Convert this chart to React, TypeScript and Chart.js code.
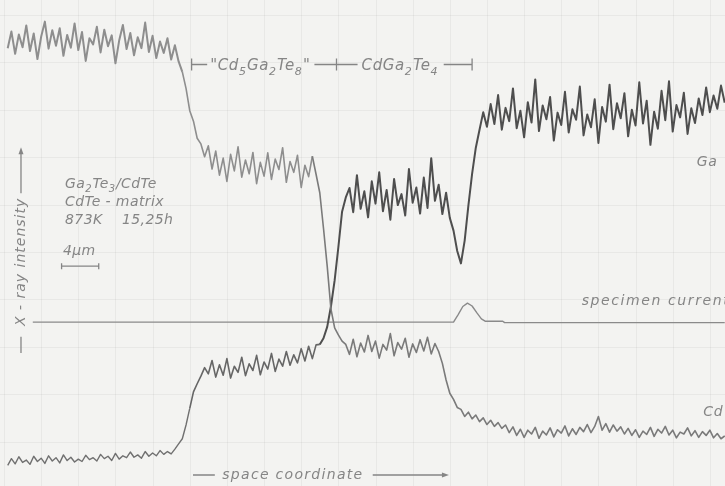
import React, { useEffect, useRef } from "react";
import { Chart, registerables } from "chart.js";

Chart.register(...registerables);

// ---- data (space coordinate in µm, X-ray intensity in arbitrary units) ----
const positionsUm = [
  0.4, 0.8, 1.2, 1.6, 2.0, 2.4, 2.8, 3.2, 3.6, 4.0,
  4.4, 4.8, 5.2, 5.6, 6.0, 6.4, 6.8, 7.2, 7.6, 8.0,
  8.4, 8.8, 9.2, 9.6, 10.0, 10.4, 10.8, 11.2, 11.6, 12.0,
  12.4, 12.8, 13.2, 13.6, 14.0, 14.4, 14.8, 15.2, 15.6, 16.0,
  16.4, 16.8, 17.2, 17.6, 18.0, 18.4, 18.8, 19.2, 19.6, 20.0,
  20.4, 20.8, 21.2, 21.6, 22.0, 22.4, 22.8, 23.2, 23.6, 24.0,
  24.4, 24.8, 25.2, 25.6, 26.0, 26.4, 26.8, 27.2, 27.6, 28.0,
  28.4, 28.8, 29.2, 29.6, 30.0, 30.4, 30.8, 31.2, 31.6, 32.0,
  32.4, 32.8, 33.2, 33.6, 34.0, 34.4, 34.8, 35.2, 35.6, 36.0,
  36.4, 36.8, 37.2, 37.6, 38.0, 38.4, 38.8, 39.2, 39.6, 40.0,
  40.4, 40.8, 41.2, 41.6, 42.0, 42.4, 42.8, 43.2, 43.6, 44.0,
  44.4, 44.8, 45.2, 45.6, 46.0, 46.4, 46.8, 47.2, 47.6, 48.0,
  48.4, 48.8, 49.2, 49.6, 50.0, 50.4, 50.8, 51.2, 51.6, 52.0,
  52.4, 52.8, 53.2, 53.6, 54.0, 54.4, 54.8, 55.2, 55.6, 56.0,
  56.4, 56.8, 57.2, 57.6, 58.0, 58.4, 58.8, 59.2, 59.6, 60.0,
  60.4, 60.8, 61.2, 61.6, 62.0, 62.4, 62.8, 63.2, 63.6, 64.0,
  64.4, 64.8, 65.2, 65.6, 66.0, 66.4, 66.8, 67.2, 67.6, 68.0,
  68.4, 68.8, 69.2, 69.6, 70.0, 70.4, 70.8, 71.2, 71.6, 72.0,
  72.4, 72.8, 73.2, 73.6, 74.0, 74.4, 74.8, 75.2, 75.6, 76.0,
  76.4, 76.8, 77.2, 77.6,
];

const cdIntensity = [
  93.0, 96.5, 91.8, 95.9, 93.2, 97.8, 92.4, 96.1, 90.7, 95.4,
  98.6, 92.9, 96.8, 93.5, 97.2, 91.4, 95.8, 93.1, 98.2, 92.6,
  96.4, 90.3, 95.1, 93.8, 97.5, 92.1, 96.9, 93.4, 95.7, 89.8,
  94.6, 97.9, 92.8, 96.2, 91.5, 95.3, 93.0, 98.4, 92.2, 95.6,
  90.9, 94.4, 92.0, 95.1, 90.6, 93.6, 90.2, 88.0, 84.5, 79.8,
  77.6, 74.0, 72.8, 70.1, 72.4, 67.5, 71.3, 66.2, 69.8, 64.9,
  70.6, 67.1, 72.2, 65.8, 69.4, 66.5, 71.0, 64.4, 68.9, 66.0,
  70.9, 65.3, 69.6, 67.4, 72.0, 64.7, 69.1, 66.8, 70.4, 63.6,
  68.3, 65.9, 70.2, 66.4, 62.5, 55.0, 47.0, 38.0, 34.0, 32.5,
  31.2, 30.5, 28.4, 31.6, 27.9, 30.8, 28.9, 32.4, 29.0, 31.2,
  27.6, 30.5, 29.3, 32.8, 28.1, 30.9, 29.5, 31.8, 27.8, 30.6,
  28.8, 31.5, 29.1, 32.0, 28.5, 30.7, 29.0, 26.5, 23.0, 20.2,
  18.9, 17.2, 16.8, 15.3, 16.2, 14.8, 15.6, 14.2, 15.0, 13.6,
  14.5, 13.2, 14.0, 12.8, 13.5, 11.9, 13.1, 11.3, 12.6, 10.9,
  12.4, 11.6, 13.0, 10.7, 12.2, 11.4, 12.9, 11.0, 12.5, 11.8,
  13.3, 11.2, 12.7, 11.5, 13.0, 12.1, 13.6, 11.9, 13.2, 15.3,
  12.4, 13.8, 12.0, 13.5, 12.2, 13.1, 11.6, 12.8, 11.3, 12.5,
  10.9, 12.2, 11.5, 13.0, 11.1, 12.6, 11.8, 13.2, 11.4, 12.4,
  10.8, 12.0, 11.6, 12.9, 11.2, 12.3, 10.9, 12.1, 11.3, 12.4,
  10.8, 11.7, 10.6, 11.2,
];

const gaIntensity = [
  5.0, 6.4, 5.3, 6.8, 5.6, 6.1, 5.2, 6.9, 5.8, 6.5,
  5.4, 7.0, 5.9, 6.6, 5.5, 7.2, 6.0, 6.7, 5.7, 6.3,
  5.8, 7.1, 6.2, 6.6, 5.9, 7.3, 6.4, 6.9, 6.0, 7.5,
  6.3, 7.0, 6.6, 7.8, 6.7, 7.2, 6.5, 7.9, 6.9, 7.6,
  7.0, 8.1, 7.3, 7.9, 7.4, 8.4, 9.5, 10.6, 13.5, 17.0,
  20.5, 22.2, 23.8, 25.6, 24.3, 27.1, 23.6, 26.2, 24.0, 27.5,
  23.4, 25.9, 24.6, 27.8, 23.9, 26.4, 25.0, 28.2, 24.1, 26.8,
  25.3, 28.6, 24.8, 27.4, 25.9, 29.0, 26.1, 28.3, 26.6, 29.6,
  27.0, 30.1, 27.5, 30.4, 30.5, 31.8, 34.2, 38.5, 44.0, 51.0,
  58.5, 61.5, 63.5, 58.4, 66.2, 59.1, 62.8, 57.3, 64.9, 60.2,
  66.8, 58.6, 63.1, 56.8, 65.4, 59.9, 62.2, 57.7, 67.5, 60.4,
  63.6, 58.1, 65.7, 59.3, 69.8, 60.8, 64.2, 58.0, 62.5, 57.2,
  54.5, 50.2, 47.6, 52.4, 59.8, 66.5, 72.0, 75.8, 79.5, 76.4,
  81.2, 77.0, 83.1, 75.8, 80.4, 77.6, 84.5, 76.1, 79.8, 74.2,
  81.6, 77.3, 86.4, 75.5, 80.9, 78.0, 82.7, 73.5, 79.4, 76.8,
  83.8, 75.2, 80.1, 77.9, 84.9, 74.6, 79.0, 76.3, 82.2, 73.0,
  80.6, 77.5, 85.3, 75.9, 81.4, 78.2, 83.5, 74.4, 80.0, 76.7,
  85.8, 77.1, 81.9, 72.6, 79.6, 76.0, 84.0, 77.8, 86.0, 75.4,
  81.0, 78.4, 83.6, 74.9, 80.3, 77.2, 82.4, 78.9, 84.7, 79.5,
  83.0, 80.2, 85.1, 81.5,
];

const currentPositionsUm = [3.1, 48.4, 48.9, 49.4, 49.9, 50.4, 50.9, 51.4, 51.8, 53.7, 53.9, 77.6];
const specimenCurrent = [35.2, 35.2, 36.8, 38.5, 39.2, 38.6, 37.2, 35.9, 35.4, 35.4, 35.1, 35.1];

const gridPositionsUm = [0, 4, 8, 12, 16, 20, 24, 28, 32, 36, 40, 44, 48, 52, 56, 60, 64, 68, 72, 76];
const gridIntensity = [10, 20, 30, 40, 50, 60, 70, 80, 90, 100];

// ---- texts ----
type Part = [string, number];
const sampleParts: Part[] = [["Ga", 0], ["2", 1], ["Te", 0], ["3", 1], ["/CdTe", 0]];
const matrixText = "CdTe - matrix";
const temperatureText = "873K";
const durationText = "15,25h";
const scaleText = "4µm";
const phase1Parts: Part[] = [["\"Cd", 0], ["5", 1], ["Ga", 0], ["2", 1], ["Te", 0], ["8", 1], ["\"", 0]];
const phase2Parts: Part[] = [["CdGa", 0], ["2", 1], ["Te", 0], ["4", 1]];
const yTitle = "X - ray intensity";
const xTitle = "space coordinate";
const currentLabel = "specimen current";
const gaLabel = "Ga";
const cdLabel = "Cd";

// ---- layout / style ----
const X_MIN = -0.43;
const X_MAX = 77.63;
const Y_MIN = 0.63;
const Y_MAX = 103.16;
const FONT = '"DejaVu Sans", sans-serif';
const TEXT_COLOR = "#858585";
const BG = "#f3f3f1";
const GRID_COLOR = "rgba(0,0,0,0.045)";

function drawParts(ctx: CanvasRenderingContext2D, parts: Part[], x: number, y: number, size: number) {
  let cx = x;
  for (const [t, sub] of parts) {
    const s = sub ? Math.round(size * 0.7) : size;
    ctx.font = `italic ${s}px ${FONT}`;
    ctx.fillText(t, cx, sub ? y + size * 0.28 : y);
    cx += ctx.measureText(t).width + (sub ? 0.5 : 0);
  }
  return cx;
}

function arrowHead(ctx: CanvasRenderingContext2D, x: number, y: number, dir: "up" | "right") {
  ctx.beginPath();
  if (dir === "up") {
    ctx.moveTo(x, y - 1);
    ctx.lineTo(x - 2.5, y + 6);
    ctx.lineTo(x + 2.5, y + 6);
  } else {
    ctx.moveTo(x + 1, y);
    ctx.lineTo(x - 6, y - 2.5);
    ctx.lineTo(x - 6, y + 2.5);
  }
  ctx.closePath();
  ctx.fill();
}

const decorPlugin = {
  id: "decor",
  beforeDraw(chart: any) {
    const { ctx, width, height } = chart;
    const xs = chart.scales.x;
    const ys = chart.scales.y;
    ctx.save();
    ctx.fillStyle = BG;
    ctx.fillRect(0, 0, width, height);
    ctx.strokeStyle = GRID_COLOR;
    ctx.lineWidth = 1;
    for (const g of gridPositionsUm) {
      const p = Math.round(xs.getPixelForValue(g)) + 0.5;
      ctx.beginPath();
      ctx.moveTo(p, 0);
      ctx.lineTo(p, height);
      ctx.stroke();
    }
    for (const g of gridIntensity) {
      const p = Math.round(ys.getPixelForValue(g)) + 0.5;
      ctx.beginPath();
      ctx.moveTo(0, p);
      ctx.lineTo(width, p);
      ctx.stroke();
    }
    ctx.restore();
  },
  afterDatasetsDraw(chart: any) {
    const ctx: any = chart.ctx;
    const xs = chart.scales.x;
    const ys = chart.scales.y;
    const px = (v: number) => xs.getPixelForValue(v);
    const py = (v: number) => ys.getPixelForValue(v);
    ctx.save();
    ctx.fillStyle = TEXT_COLOR;
    ctx.strokeStyle = TEXT_COLOR;
    ctx.lineWidth = 1.3;
    ctx.textBaseline = "alphabetic";
    ctx.textAlign = "left";
    const size = 14;

    // sample block
    ctx.letterSpacing = "0.4px";
    drawParts(ctx, sampleParts, px(6.57), py(63.5), size);
    ctx.font = `italic ${size}px ${FONT}`;
    ctx.fillText(matrixText, px(6.57), py(59.7));
    ctx.fillText(temperatureText, px(6.57), py(55.9));
    ctx.fillText(durationText, px(12.7), py(55.9));
    ctx.fillText(scaleText, px(6.35), py(49.4));
    // scale bar 4 µm
    const sbY = py(47.0);
    ctx.beginPath();
    ctx.moveTo(px(6.2), sbY);
    ctx.lineTo(px(10.2), sbY);
    ctx.moveTo(px(6.2), sbY - 3);
    ctx.lineTo(px(6.2), sbY + 3);
    ctx.moveTo(px(10.2), sbY - 3);
    ctx.lineTo(px(10.2), sbY + 3);
    ctx.stroke();

    // phase bracket
    ctx.letterSpacing = "0.6px";
    const bY = py(89.55);
    const tY = py(88.3);
    const leftTick = px(20.2);
    const t1 = px(22.2);
    const cross = px(35.8);
    const t2 = px(38.5);
    const endTick = px(50.4);
    ctx.beginPath();
    ctx.moveTo(leftTick, bY - 6);
    ctx.lineTo(leftTick, bY + 6);
    ctx.moveTo(leftTick, bY);
    ctx.lineTo(t1 - 3, bY);
    ctx.stroke();
    const e1 = drawParts(ctx, phase1Parts, t1, tY, 15);
    ctx.beginPath();
    ctx.moveTo(e1 + 4, bY);
    ctx.lineTo(t2 - 4, bY);
    ctx.moveTo(cross, bY - 6);
    ctx.lineTo(cross, bY + 6);
    ctx.stroke();
    const e2 = drawParts(ctx, phase2Parts, t2, tY, 15);
    ctx.beginPath();
    ctx.moveTo(e2 + 5, bY);
    ctx.lineTo(endTick, bY);
    ctx.moveTo(endTick, bY - 6);
    ctx.lineTo(endTick, bY + 6);
    ctx.stroke();

    // y title with arrow
    const yx = px(1.83);
    ctx.save();
    ctx.translate(yx, py(47.9));
    ctx.rotate(-Math.PI / 2);
    ctx.font = `italic ${size}px ${FONT}`;
    ctx.letterSpacing = "1px";
    ctx.textAlign = "center";
    ctx.textBaseline = "middle";
    ctx.fillText(yTitle, 0, 0);
    ctx.restore();
    ctx.beginPath();
    ctx.moveTo(yx, py(62.4));
    ctx.lineTo(yx, py(71.9) + 4);
    ctx.moveTo(yx, py(32.1));
    ctx.lineTo(yx, py(28.7));
    ctx.stroke();
    arrowHead(ctx, yx, py(71.9), "up");

    // x title with arrow
    const xy = py(2.95);
    ctx.beginPath();
    ctx.moveTo(px(20.35), xy);
    ctx.lineTo(px(22.7), xy);
    ctx.moveTo(px(39.7), xy);
    ctx.lineTo(px(47.8) - 4, xy);
    ctx.stroke();
    arrowHead(ctx, px(47.8), xy, "right");
    ctx.font = `italic ${size}px ${FONT}`;
    ctx.letterSpacing = "1.3px";
    ctx.textBaseline = "middle";
    ctx.fillText(xTitle, px(23.5), xy);

    // series labels
    ctx.textBaseline = "alphabetic";
    ctx.letterSpacing = "1.6px";
    ctx.fillText(currentLabel, px(62.2), py(38.8));
    ctx.letterSpacing = "0.6px";
    ctx.fillText(gaLabel, px(74.6), py(68.1));
    ctx.fillText(cdLabel, px(75.3), py(15.4));
    ctx.restore();
  },
};

function toPoints(xs: number[], ys: number[]) {
  const n = Math.min(xs.length, ys.length);
  const out: { x: number; y: number }[] = [];
  for (let i = 0; i < n; i++) out.push({ x: xs[i], y: ys[i] });
  return out;
}

export default function App() {
  const canvasRef = useRef<HTMLCanvasElement | null>(null);

  useEffect(() => {
    const canvas = canvasRef.current;
    if (!canvas) return;
    const chart = new Chart(canvas, {
      type: "line",
      data: {
        datasets: [
          {
            label: "Cd",
            data: toPoints(positionsUm, cdIntensity),
            borderColor: "#7a7a7a",
            borderWidth: 1.6,
            pointRadius: 0,
            segment: {
              borderColor: (c: any) => (c.p0.parsed.x < 33 ? "#8e8e8e" : "#7a7a7a"),
              borderWidth: (c: any) => (c.p0.parsed.x < 19 ? 2.0 : 1.6),
            },
          },
          {
            label: "Ga",
            data: toPoints(positionsUm, gaIntensity),
            borderColor: "#505050",
            borderWidth: 1.8,
            pointRadius: 0,
            segment: {
              borderColor: (c: any) => (c.p0.parsed.x < 20 ? "#707070" : c.p0.parsed.x < 34 ? "#666666" : "#4e4e4e"),
              borderWidth: (c: any) => (c.p0.parsed.x < 20 ? 1.4 : c.p0.parsed.x < 34 ? 1.6 : 2.0),
            },
          },
          {
            label: "specimen current",
            data: toPoints(currentPositionsUm, specimenCurrent),
            borderColor: "#8a8a8a",
            borderWidth: 1.4,
            pointRadius: 0,
          },
        ],
      },
      options: {
        responsive: false,
        maintainAspectRatio: false,
        animation: false,
        events: [],
        layout: { padding: 0 },
        elements: { line: { tension: 0, borderJoinStyle: "round" } },
        plugins: {
          legend: { display: false },
          tooltip: { enabled: false },
          title: { display: false },
        },
        scales: {
          x: { type: "linear", min: X_MIN, max: X_MAX, display: false },
          y: { type: "linear", min: Y_MIN, max: Y_MAX, display: false },
        },
      },
      plugins: [decorPlugin],
    } as any);
    return () => chart.destroy();
  }, []);

  return (
    <div style={{ position: "fixed", left: 0, top: 0, width: 725, height: 486, background: BG }}>
      <canvas
        ref={canvasRef}
        width={725}
        height={486}
        style={{ display: "block", width: 725, height: 486, filter: "blur(0.4px)" }}
      />
    </div>
  );
}
